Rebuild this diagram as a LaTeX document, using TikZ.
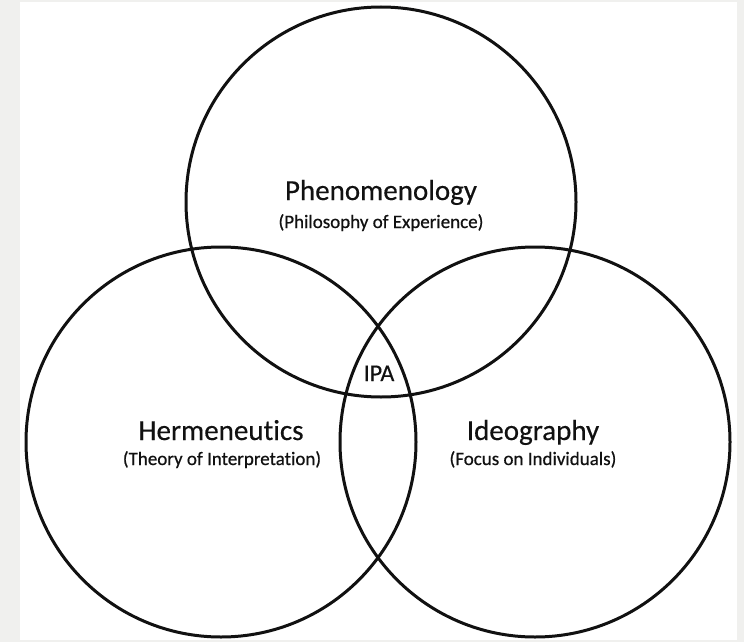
\documentclass[tikz,border=0pt]{standalone}
\usepackage{fontspec}
\setmainfont{Carlito}[Ligatures=NoCommon]
\newfontfamily\boldishfont{Carlito}[Ligatures=NoCommon,FakeBold=0.6]
\newfontfamily\titlefont{Carlito}[Ligatures=NoCommon,FakeBold=0.4]
\definecolor{bggray}{HTML}{F0F0EE}
\definecolor{inkc}{HTML}{111111}
\begin{document}
\begin{tikzpicture}[x=1pt,y=-1pt,
  ring/.style={circle,draw=inkc,line width=3pt,minimum size=390pt,inner sep=0pt},
  ttl/.style={anchor=base,inner sep=0pt,text=inkc,font=\titlefont\fontsize{29}{31}\selectfont},
  sub/.style={anchor=base,inner sep=0pt,text=inkc,font=\boldishfont\fontsize{19}{21}\selectfont},
  ipa/.style={anchor=base,inner sep=0pt,text=inkc,font=\titlefont\fontsize{24}{26}\selectfont}]
\fill[bggray] (0,0) rectangle (744,642);
\fill[white] (20,2) rectangle (737,640);
\useasboundingbox (0,0) rectangle (744,642);
\node[ring] (phen) at (381,202) {};
\node[ring] (herm) at (221,442) {};
\node[ring] (ideo) at (535,442) {};
\node[ttl] (phent) at (381,200) {Phenomenology};
\node[sub] (phens) at (381,228) {(Philosophy of Experience)};
\node[ttl] (hermt) at (221,440) {Hermeneutics};
\node[sub] (herms) at (222,465) {(Theory of Interpretation)};
\node[ttl] (ideot) at (533,440) {Ideography};
\node[sub] (ideos) at (533,465) {(Focus on Individuals)};
\node[ipa] (ipa) at (379,381) {IPA};
\end{tikzpicture}
\end{document}
